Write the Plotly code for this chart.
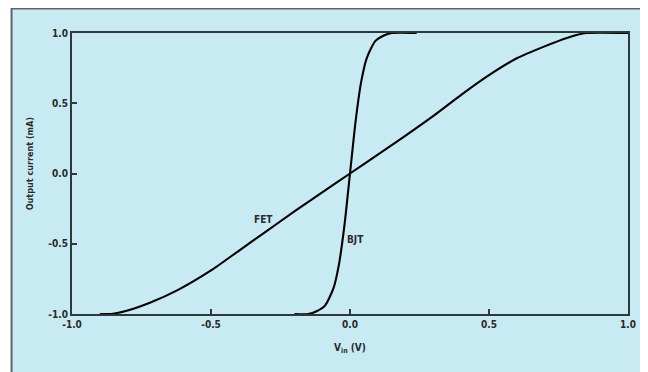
import plotly.graph_objects as go

# Data
fet_x = [-0.90, -0.86, -0.80, -0.72, -0.62, -0.50, -0.40, -0.30, -0.20, -0.10, 0.0,
         0.10, 0.20, 0.30, 0.40, 0.50, 0.60, 0.70, 0.78, 0.85, 1.0]
fet_y = [-1.0, -1.0, -0.975, -0.92, -0.83, -0.69, -0.55, -0.41, -0.27, -0.135, 0.0,
         0.135, 0.27, 0.41, 0.56, 0.70, 0.82, 0.905, 0.965, 1.0, 1.0]

bjt_x = [-0.20, -0.15, -0.12, -0.09, -0.06, -0.04, -0.02, 0.0, 0.02, 0.04, 0.06,
         0.09, 0.12, 0.15, 0.24]
bjt_y = [-1.0, -1.0, -0.98, -0.94, -0.82, -0.65, -0.37, 0.0, 0.37, 0.65, 0.82,
         0.94, 0.98, 1.0, 1.0]

tick_vals = [-1.0, -0.5, 0.0, 0.5, 1.0]
tick_text = ["-1.0", "-0.5", "0.0", "0.5", "1.0"]

x_title = "V<sub>in</sub> (V)"
y_title = "Output current (mA)"
labels = [("FET", -0.31, -0.33), ("BJT", 0.02, -0.47)]

# page is offset by the 8px body margin
OFF = 8
W, H = 648 - OFF, 372 - OFF
L, R, T, B = 72 - OFF, 15, 33 - OFF, 58
pw, ph = W - L - R, H - T - B

BG = "#c8eaf3"
DARK = "#2c3a3a"
FONT = dict(family="Liberation Sans Narrow, DejaVu Sans Condensed, Arial Narrow, sans-serif",
            size=10, color="#2a2a2a")

fig = go.Figure()
fig.add_trace(go.Scatter(x=fet_x, y=fet_y, mode="lines",
                         line=dict(color="black", width=2.1, shape="spline", smoothing=0.6),
                         showlegend=False, hoverinfo="skip"))
fig.add_trace(go.Scatter(x=bjt_x, y=bjt_y, mode="lines",
                         line=dict(color="black", width=2.1, shape="spline", smoothing=0.6),
                         showlegend=False, hoverinfo="skip"))

for txt, lx, ly in labels:
    fig.add_annotation(x=lx, y=ly, text="<b>" + txt + "</b>", showarrow=False, font=FONT,
                       xanchor="center", yanchor="middle")

# outer patterned panel with gray left/top border (page x=11, y=7)
fig.add_shape(type="rect", xref="paper", yref="paper",
              x0=(11 - OFF - L) / pw, x1=(W + 10 - L) / pw,
              y0=-(H + 10 - T - ph) / ph, y1=(H - B - 0.5) / ph,
              fillcolor=BG, line=dict(color="#5c6868", width=2), layer="below")

fig.add_annotation(xref="paper", yref="paper", x=0.5, y=-(348 - OFF - (H - B)) / ph,
                   text="<b>" + x_title + "</b>", showarrow=False, font=FONT,
                   xanchor="center", yanchor="middle")
fig.add_annotation(xref="paper", yref="paper", x=(30 - OFF - L) / pw, y=(H - B - (164 - OFF)) / ph,
                   text="<b>" + y_title + "</b>", showarrow=False, font=dict(FONT, size=9),
                   textangle=-90, xanchor="center", yanchor="middle")

axis_common = dict(showline=True, linecolor=DARK, linewidth=2, mirror=True, showgrid=False,
                   zeroline=False, ticks="inside", ticklen=5, tickwidth=1.5, tickcolor=DARK,
                   tickvals=tick_vals, ticktext=["<b>" + t + "</b>" for t in tick_text],
                   tickfont=FONT)

fig.update_xaxes(range=[-1.0, 1.0], **axis_common)
fig.update_yaxes(range=[-1.0, 1.0], **axis_common)

fig.update_layout(width=W, height=H, margin=dict(l=L, r=R, t=T, b=B, pad=0),
                  paper_bgcolor="white", plot_bgcolor=BG)

fig.write_html("out.html")
